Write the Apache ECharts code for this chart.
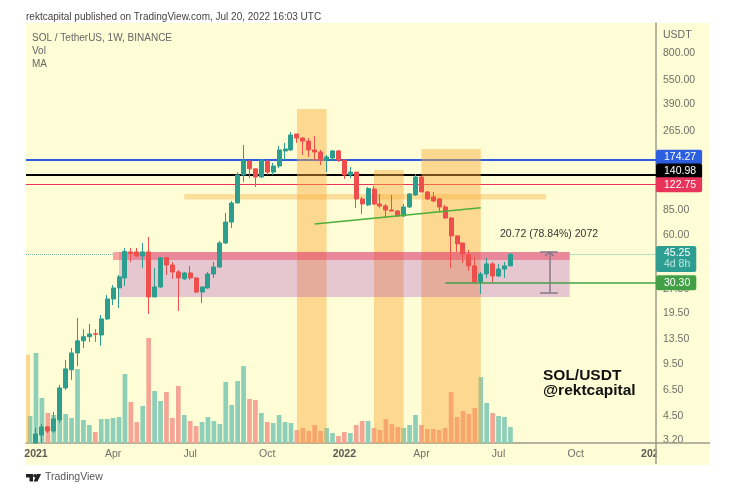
<!DOCTYPE html>
<html lang="en">
<head>
    <meta charset="UTF-8">
    <title>SOL / TetherUS</title>
    <script src="https://cdn.jsdelivr.net/npm/echarts@6/dist/echarts.min.js"></script>
    <style>
        html, body { margin: 0; padding: 0; background: #fff; }
        #container { width: 734px; height: 500px; }
    </style>
</head>
<body>
<div id="container"></div>
<script type="text/javascript">
    // weekly candles from 2020-12-28: [open, close, low, high]
    const candles = [
        [1.5, 1.8, 1.4, 1.9], [3.07, 3.49, 3.07, 3.81], [3.44, 3.86, 3.07, 4.03], [3.86, 3.64, 3.54, 3.91],
        [3.64, 4.33, 3.54, 4.79], [4.27, 6.74, 4.09, 7.04], [6.74, 8.84, 6.55, 10.05], [8.72, 11.1, 7.56, 11.9],
        [11.1, 13.2, 9.2, 18.3], [13.2, 14, 11.9, 15.6], [14, 14.55, 13, 16.8], [14.6, 14.5, 13, 15.6],
        [14.35, 18.05, 12.3, 19.1], [18.05, 24, 17.8, 25.4], [24, 28.1, 22, 29.3], [28.1, 32.9, 21.1, 33.8],
        [32.4, 47.3, 28.9, 49.7], [47, 46, 40.7, 49.7], [47, 44.4, 43.7, 49.7], [44.4, 47, 37.4, 53.4],
        [47, 24.7, 19.4, 58.2], [24.7, 28.5, 24.7, 37.4], [28.5, 43.2, 28.1, 43.7], [43.2, 39, 33.8, 43.7],
        [39, 35.3, 32, 40.7], [35.3, 32.4, 20.2, 36.3], [32, 34.8, 31.5, 35.3], [34.8, 32.4, 31.5, 38.5],
        [32.4, 26.5, 26.1, 32.9], [26.5, 28.5, 22.7, 28.5], [28.1, 34.3, 27.7, 35.3], [34.3, 37.9, 32.4, 40.7],
        [37.9, 53.4, 37.4, 55], [53.4, 72, 52.7, 82], [72, 94.5, 66.2, 97.3], [94.5, 141, 94.5, 147],
        [141, 174.3, 127.7, 216.6], [172, 154, 135, 174.7], [154, 137, 118.8, 154], [137, 174.3, 135, 177],
        [172, 147, 141, 174.7], [147, 160.3, 141, 167.4], [160.3, 201.6, 155.6, 213.5], [198.7, 204.5, 174.7, 223],
        [201.6, 249.8, 198.7, 260.6], [253.4, 239, 223, 253.4], [239, 229, 187.7, 242.7], [229, 201.6, 182.4, 239],
        [201.6, 195.8, 174.7, 246.3], [195.8, 174.7, 162.7, 201.6], [174.7, 182.4, 147, 187.7], [179.8, 198.7, 172, 201.6],
        [198.7, 174.7, 169.8, 201.6], [174.7, 141, 133.2, 174.7], [141, 147, 135, 158], [147, 100.1, 88.2, 147],
        [100.1, 93.2, 80.8, 103], [91.9, 116.1, 90.6, 118.8], [115.4, 93.2, 91.9, 120.5], [93.2, 90.6, 88.2, 107.5],
        [90.6, 85.5, 76.3, 93.2], [85.5, 84.3, 84.3, 106], [84.3, 78.6, 77.4, 85.5], [78.6, 89.3, 77.4, 93.2],
        [89.3, 107.5, 88.2, 109], [106, 137, 104.5, 143], [137, 110.6, 110.6, 139], [110.6, 100.1, 98.7, 112.2],
        [103, 97.3, 96, 110.6], [100.1, 89.3, 82.9, 101.5], [89.3, 76.3, 75.2, 91.9], [76.3, 59.1, 37.4, 77.4],
        [59.1, 52.7, 46.9, 59.1], [53.4, 45.6, 40.1, 53.4], [45, 38.5, 35.8, 48.3], [38.5, 30.6, 30.2, 43.7],
        [30.6, 34.3, 25.8, 35.3], [34.3, 39.6, 32.4, 43.2], [39.6, 33.3, 30.6, 40.7], [33.3, 36.8, 32.9, 39.6],
        [36.8, 38.5, 32.4, 40.7], [38.5, 45.25, 38.5, 46.2]
    ];
    // relative weekly volume, same weeks as candles
    const volumes = [
        2.7, 9.0, 4.5, 3.0, 2.8, 2.6, 2.9, 2.5, 7.4, 2.3, 1.8, 1.1, 2.4, 2.4, 2.5, 2.6, 6.9, 4.1, 2.1, 3.7, 10.5,
        5.2, 4.2, 5.1, 2.5, 5.7, 2.8, 2.2, 1.7, 2.1, 2.6, 2.2, 1.9, 6.1, 3.8, 6.2, 7.7, 4.4, 4.3, 3.0, 2.1, 2.0,
        2.8, 2.1, 2.0, 1.3, 1.5, 1.2, 1.8, 1.2, 1.5, 1.0, 0.7, 1.1, 1.0, 1.8, 2.2, 2.2, 1.5, 1.3, 2.4, 1.9, 1.6,
        1.5, 1.8, 2.8, 1.8, 1.4, 1.4, 1.3, 1.5, 5.1, 2.6, 3.2, 2.9, 3.5, 6.6, 4.0, 3.0, 2.7, 2.6, 1.6
    ];
    const firstWeek = Date.UTC(2020, 11, 28);
    const weekMs = 7 * 24 * 3600 * 1000;

    const priceTicks = [800, 550, 390, 265, 85, 60, 27.5, 19.5, 13.5, 9.5, 6.5, 4.5, 3.2];
    const timeTicks = [
        ['2021-01-04', '2021'], ['2021-04-05', 'Apr'], ['2021-07-05', 'Jul'], ['2021-10-04', 'Oct'],
        ['2022-01-03', '2022'], ['2022-04-04', 'Apr'], ['2022-07-04', 'Jul'], ['2022-10-03', 'Oct'], ['2023-01-02', '2023']
    ];

    const blueLevel = 174.27;
    const blackLevel = 140.98;
    const redLevel = 122.75;
    const lastPrice = 45.25;
    const greenLevel = 30.30;
    const greenLevelStart = '2022-05-02';
    const trendLine = [['2021-11-29', 70], ['2022-06-13', 88.2]];
    const measure = {
        date: '2022-09-02', low: 26.28, high: 47.0, capFrom: '2022-08-22', capTo: '2022-09-12',
        arrowFrom: '2022-08-28', arrowTo: '2022-09-07', arrowLow: 44.4
    };

    // [from, to, low, high]
    const orangeColumns = [
        ['2021-11-08', '2021-12-13', 3, 362],
        ['2022-02-07', '2022-03-14', 3, 151.5],
        ['2022-04-04', '2022-06-13', 3, 204.6],
        ['2020-12-01', '2020-12-28', 3, 10.8]
    ];
    const orangeBand = ['2021-06-28', '2022-08-29', 99.4, 107.5];
    const pinkZone = ['2021-04-12', '2022-09-26', 24.7, 46.9];
    const redZone = ['2021-04-05', '2022-09-26', 41.9, 46.9];

    const fontName = '"Liberation Sans", Arial, sans-serif';
    const upColor = '#2B9E90', downColor = '#EE4F4C';
    const upVol = '#8DCFB8', downVol = '#F5A594';
    const panelColor = '#FEFDD6', axisColor = '#9C9C8C', textGray = '#6F6F6A';
    const dottedStyle = { color: '#7DBBAA', width: 1, type: 'dotted', opacity: 1 };

    function day(s) { return new Date(s + 'T00:00:00Z').getTime(); }

    const weeks = candles.map(function (c, i) { return firstWeek + i * weekMs; });
    const xMin = firstWeek + (1 - 1.686) * weekMs;
    const xMax = firstWeek + (1 + 104.55) * weekMs;

    function zoneItem(z, color) {
        return [
            { coord: [Math.max(day(z[0]), xMin), z[3]], itemStyle: { color: color } },
            { coord: [day(z[1]), z[2]] }
        ];
    }
    function levelItem(value, color, width, text, tagOffset) {
        return {
            yAxis: value,
            lineStyle: { color: color, width: width, type: 'solid', opacity: 1 },
            label: {
                show: true, position: 'end', distance: 0, formatter: text, color: '#fff', backgroundColor: color,
                fontFamily: fontName, fontSize: 10.5, borderRadius: 2, padding: [2, 6, 2, 8], align: 'left', offset: [0, tagOffset]
            }
        };
    }
    function segment(from, to, color) {
        return [
            { coord: from, lineStyle: { color: color, width: 1.5, type: 'solid', opacity: 1 }, label: { show: false } },
            { coord: to }
        ];
    }

    let myChart = echarts.init(document.getElementById('container'), null, { renderer: 'canvas' });
    let option = {
        animation: false,
        backgroundColor: '#ffffff',
        grid: { left: 26, right: 78, top: 23, bottom: 57 },
        xAxis: {
            type: 'value', min: xMin, max: xMax, scale: true,
            axisLine: { show: true, onZero: false, lineStyle: { color: axisColor, width: 1.5 } },
            axisTick: { show: false },
            splitLine: { show: false },
            axisLabel: {
                customValues: timeTicks.map(function (t) { return day(t[0]); }),
                margin: 6, color: textGray, fontFamily: fontName, fontSize: 10.5, hideOverlap: false,
                formatter: function (v) {
                    let s = new Date(v).toISOString().slice(0, 10);
                    let t = timeTicks.find(function (x) { return x[0] === s; });
                    if (!t) return '';
                    return t[1].length === 4 ? '{year|' + t[1] + '}' : t[1];
                },
                rich: { year: { fontWeight: 'bold', fontSize: 10.5, color: '#5a5a55', fontFamily: fontName } }
            }
        },
        yAxis: [
            {
                type: 'log', min: 3.068, max: 1236, position: 'right',
                axisLine: { show: true, onZero: false, lineStyle: { color: axisColor, width: 1.5 } },
                axisTick: { show: false },
                splitLine: { show: false },
                axisLabel: {
                    customValues: priceTicks, margin: 7, color: textGray, fontFamily: fontName, fontSize: 10.5,
                    align: 'left', formatter: function (v) { return Number(v).toFixed(2); }
                }
            },
            { type: 'value', min: 0, max: 42, show: false }
        ],
        series: [
            {
                name: 'Vol', type: 'bar', yAxisIndex: 1, z: 1, barWidth: 4.7,
                data: volumes.map(function (v, i) {
                    let up = candles[i][1] >= candles[i][0];
                    return { value: [weeks[i], v], itemStyle: { color: up ? upVol : downVol } };
                })
            },
            {
                name: 'levels', type: 'line', data: [], z: 2,
                markLine: {
                    z: 2, silent: true, symbol: ['none', 'none'],
                    data: [
                        levelItem(blueLevel, '#2B5FE0', 2, String(blueLevel), -3),
                        levelItem(blackLevel, '#000000', 2, String(blackLevel), -4),
                        levelItem(redLevel, '#E8345A', 1, String(redLevel), 0),
                        // last price, dotted only outside the pink zone
                        [
                            { coord: [xMin, lastPrice], lineStyle: dottedStyle, label: { show: false } },
                            { coord: [day(redZone[0]), lastPrice] }
                        ],
                        [
                            { coord: [day(redZone[1]), lastPrice], lineStyle: dottedStyle },
                            {
                                coord: [xMax, lastPrice],
                                label: {
                                    show: true, position: 'end', distance: 0, align: 'left', offset: [0, 4.5],
                                    formatter: '{a|' + lastPrice + '}\n{b|4d 8h}',
                                    backgroundColor: '#2F9E92', borderRadius: 2, padding: [2, 6, 2, 8],
                                    rich: {
                                        a: { color: '#fff', fontFamily: fontName, fontSize: 10.5, lineHeight: 11 },
                                        b: { color: '#BFE8DF', fontFamily: fontName, fontSize: 10.5, lineHeight: 11 }
                                    }
                                }
                            }
                        ]
                    ]
                }
            },
            {
                name: 'zones', type: 'line', data: [], z: 3,
                markArea: {
                    z: 3, silent: true,
                    data: orangeColumns.map(function (z) { return zoneItem(z, 'rgba(250,170,60,0.45)'); }).concat([
                        zoneItem(orangeBand, 'rgba(250,170,60,0.38)'),
                        zoneItem(pinkZone, 'rgba(160,40,190,0.25)'),
                        zoneItem(redZone, 'rgba(239,60,90,0.45)')
                    ])
                }
            },
            {
                name: 'SOL', type: 'candlestick', z: 4, barWidth: 4.5,
                encode: { x: 0, y: [1, 2, 3, 4] },
                itemStyle: { color: upColor, color0: downColor, borderColor: upColor, borderColor0: downColor, borderWidth: 1 },
                data: candles.map(function (c, i) { return [weeks[i]].concat(c); })
            },
            {
                name: 'drawings', type: 'line', data: [], z: 5,
                markLine: {
                    z: 5, silent: true, symbol: ['none', 'none'],
                    data: [
                        [
                            {
                                coord: [day(greenLevelStart), greenLevel],
                                lineStyle: { color: '#43A047', width: 1.5, type: 'solid', opacity: 1 }
                            },
                            {
                                coord: [xMax, greenLevel],
                                label: {
                                    show: true, position: 'end', distance: 0, align: 'left', formatter: greenLevel.toFixed(2),
                                    color: '#fff', backgroundColor: '#43A047', borderRadius: 2, padding: [2, 6, 2, 8],
                                    fontFamily: fontName, fontSize: 10.5
                                }
                            }
                        ],
                        segment([day(trendLine[0][0]), trendLine[0][1]], [day(trendLine[1][0]), trendLine[1][1]], '#4CAF3A'),
                        segment([day(measure.date), measure.low], [day(measure.date), measure.high], '#86798C'),
                        segment([day(measure.capFrom), measure.low], [day(measure.capTo), measure.low], '#86798C'),
                        segment([day(measure.capFrom), measure.high], [day(measure.capTo), measure.high], '#86798C'),
                        segment([day(measure.arrowFrom), measure.arrowLow], [day(measure.date), measure.high], '#86798C'),
                        segment([day(measure.arrowTo), measure.arrowLow], [day(measure.date), measure.high], '#86798C')
                    ]
                }
            }
        ],
        graphic: [
            { type: 'rect', z: -1, shape: { x: 26, y: 23, width: 684, height: 442 }, style: { fill: panelColor } },
            // hides the end of the cut off year label, like the price scale does
            { type: 'rect', z: 1, shape: { x: 657, y: 444, width: 53, height: 21 }, style: { fill: panelColor } },
            { type: 'line', z: 1, shape: { x1: 656, y1: 443, x2: 710, y2: 443 }, style: { stroke: axisColor, lineWidth: 1.5 } },
            { type: 'line', z: 1, shape: { x1: 656, y1: 443, x2: 656, y2: 464 }, style: { stroke: axisColor, lineWidth: 1.5 } },
            { type: 'text', z: 6, x: 26, y: 12, style: { text: 'rektcapital published on TradingView.com, Jul 20, 2022 16:03 UTC', fill: '#444', font: '10px ' + fontName } },
            { type: 'text', z: 6, x: 32, y: 33, style: { text: 'SOL / TetherUS, 1W, BINANCE', fill: '#666', font: '10px ' + fontName } },
            { type: 'text', z: 6, x: 32, y: 46, style: { text: 'Vol', fill: '#666', font: '10px ' + fontName } },
            { type: 'text', z: 6, x: 32, y: 59, style: { text: 'MA', fill: '#666', font: '10px ' + fontName } },
            { type: 'text', z: 6, x: 663, y: 30, style: { text: 'USDT', fill: '#666', font: '10.5px ' + fontName } },
            { type: 'text', z: 6, x: 500, y: 229, style: { text: '20.72 (78.84%) 2072', fill: '#333', font: '10.5px ' + fontName } },
            { type: 'text', z: 6, x: 543, y: 368, style: { text: 'SOL/USDT', fill: '#111', font: 'bold 15.5px ' + fontName } },
            { type: 'text', z: 6, x: 543, y: 383, style: { text: '@rektcapital', fill: '#111', font: 'bold 15.5px ' + fontName } },
            { type: 'polygon', z: 6, shape: { points: [[26, 474], [33, 474], [33, 481.5], [29.5, 481.5], [29.5, 477.5], [26, 477.5]] }, style: { fill: '#222' } },
            { type: 'circle', z: 6, shape: { cx: 35, cy: 475.8, r: 1.8 }, style: { fill: '#222' } },
            { type: 'polygon', z: 6, shape: { points: [[37, 474], [41, 474], [37.5, 481.5], [33.5, 481.5]] }, style: { fill: '#222' } },
            { type: 'text', z: 6, x: 45, y: 472, style: { text: 'TradingView', fill: '#555', font: '10.5px ' + fontName } }
        ]
    };
    myChart.setOption(option, true);
</script>
</body>
</html>
